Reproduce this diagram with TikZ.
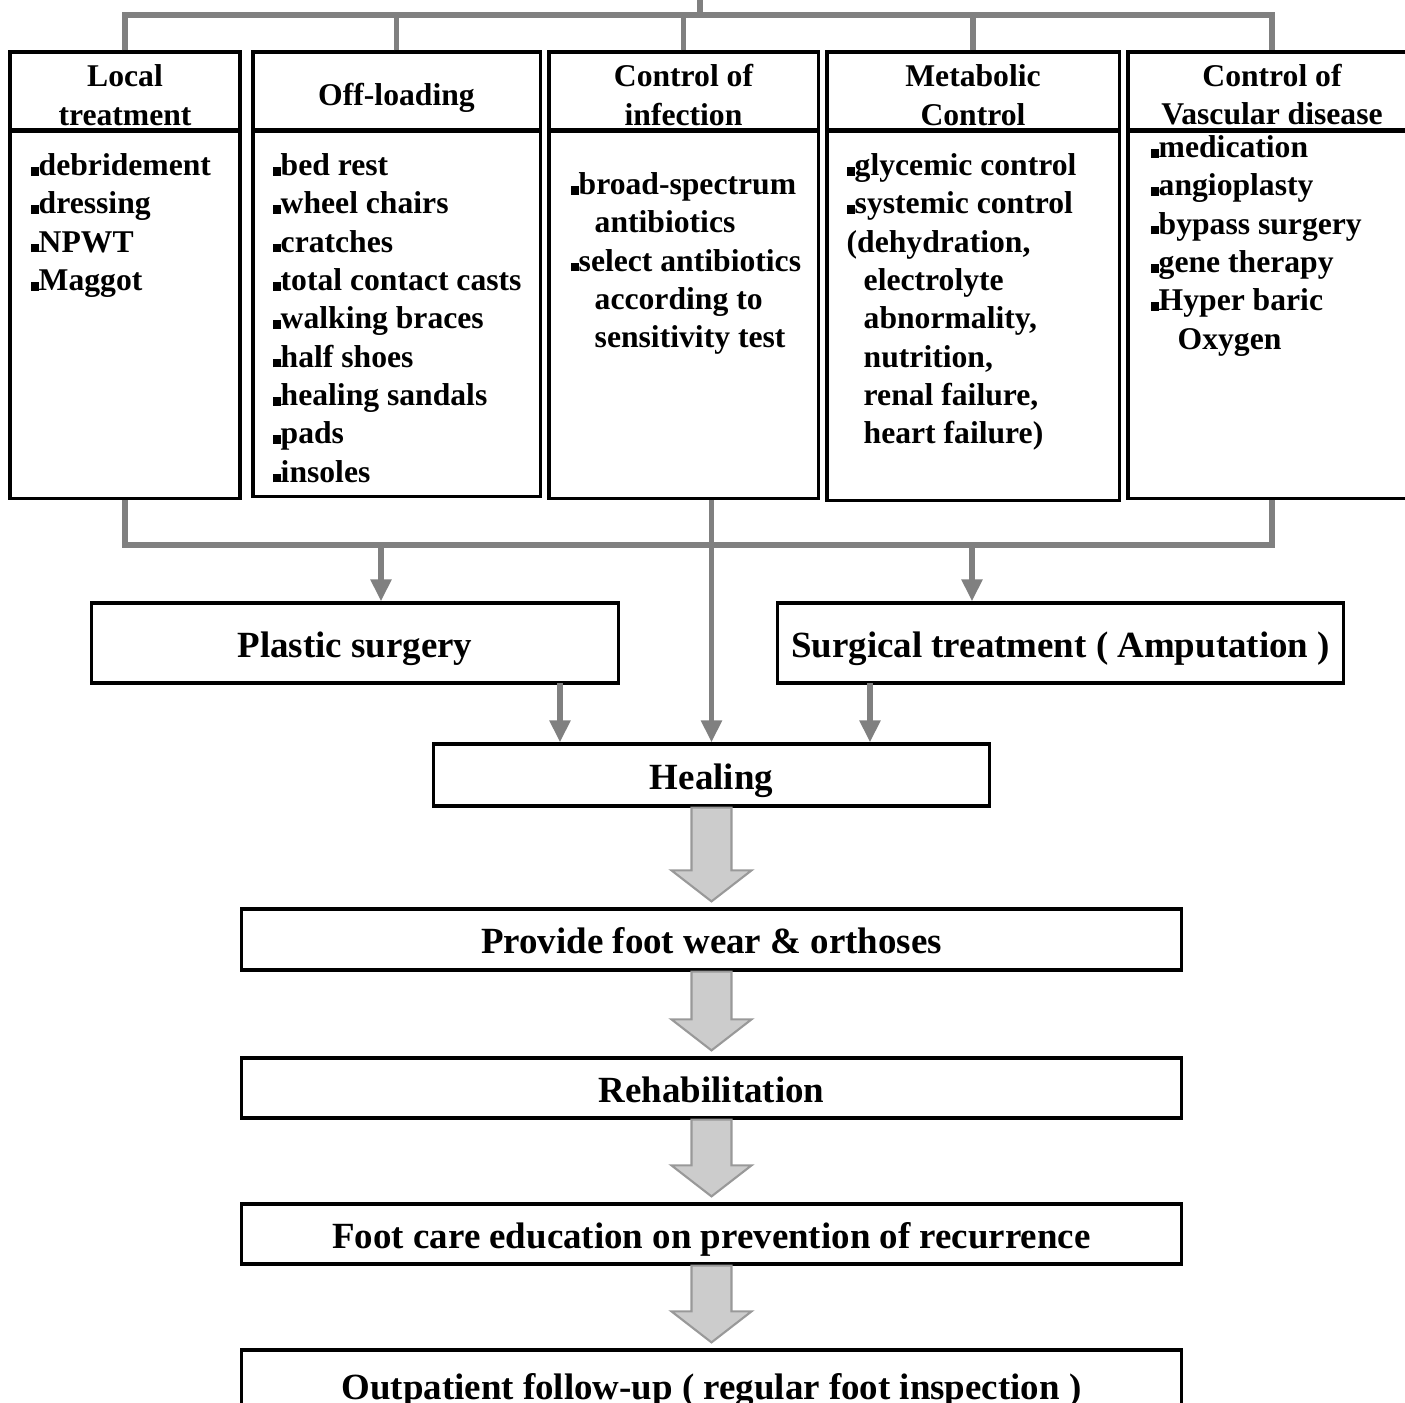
\documentclass[tikz,border=0pt]{standalone}
\usepackage{fontspec}
\setmainfont{Liberation Serif}
\usetikzlibrary{arrows.meta,calc}
\newcommand{\sqb}{\rule{0.8mm}{0.85mm}}
\newcommand{\hdstrut}{\rule{0pt}{0.30cm}}

\begin{document}
\begin{tikzpicture}[x=0.01cm, y=-0.01cm,
        hdbox/.style={rectangle, draw=black, line width=0.9pt, minimum height=0.78cm, inner sep=0pt, align=center, font=\fontsize{9}{10.9}\selectfont\bfseries},
        bdbox/.style={rectangle, draw=black, line width=0.9pt, anchor=north, inner sep=0pt},
        listtxt/.style={anchor=north west, inner sep=0pt, align=left, font=\fontsize{9}{10.9}\selectfont\bfseries},
        stepbox/.style={rectangle, draw=black, line width=0.9pt, inner sep=0pt, text height=0.28cm, text depth=0cm, font=\fontsize{10.5}{12}\selectfont\bfseries},
        bus/.style={line width=1.5pt, draw=black!50},
        arr/.style={bus, -{Triangle[length=0.22cm, width=0.2cm]}},
        fatarr/.style={fill=black!20, draw=black!40, line width=0.6pt},
    ]
        \useasboundingbox (0,0) rectangle (1405,1403);
        \clip (0,0) rectangle (1405,1403);

        % Five treatment columns
        \node[hdbox, minimum width=2.30cm] (lochd) at (125,91) {\hdstrut Local\\treatment};
        \node[hdbox, minimum width=2.87cm] (offhd) at (396.5,91) {\rule{0pt}{0.36cm}Off-loading};
        \node[hdbox, minimum width=2.69cm] (infhd) at (683.5,91) {\hdstrut Control of\\infection};
        \node[hdbox, minimum width=2.92cm] (methd) at (973,91) {\hdstrut Metabolic\\Control};
        \node[hdbox, minimum width=2.88cm] (vashd) at (1272,91) {\hdstrut Control of\\Vascular disease};

        \node[bdbox, minimum width=2.30cm, minimum height=3.67cm] (locbd) at (125,130) {};
        \node[bdbox, minimum width=2.87cm, minimum height=3.65cm] (offbd) at (396.5,130) {};
        \node[bdbox, minimum width=2.69cm, minimum height=3.67cm] (infbd) at (683.5,130) {};
        \node[bdbox, minimum width=2.92cm, minimum height=3.69cm] (metbd) at (973,130) {};
        \node[bdbox, minimum width=2.88cm, minimum height=3.67cm] (vasbd) at (1272,130) {};

        % Column contents
        \node[listtxt] (loclist) at (30,153) {\sqb debridement\\\sqb dressing\\\sqb NPWT\\\sqb Maggot};
        \node[listtxt] (offlist) at (272,153) {\sqb bed rest\\\sqb wheel chairs\\\sqb cratches\\\sqb total contact casts\\\sqb walking braces\\\sqb half shoes\\\sqb healing sandals\\\sqb pads\\\sqb insoles};
        \node[listtxt] (inflist) at (570,172) {\sqb broad-spectrum\\\hspace*{0.24cm}antibiotics\\\sqb select antibiotics\\\hspace*{0.24cm}according to\\\hspace*{0.24cm}sensitivity test};
        \node[listtxt] (metlist) at (846,153) {\sqb glycemic control\\\sqb systemic control\\(dehydration,\\\hspace*{0.17cm}electrolyte\\\hspace*{0.17cm}abnormality,\\\hspace*{0.17cm}nutrition,\\\hspace*{0.17cm}renal failure,\\\hspace*{0.17cm}heart failure)};
        \node[listtxt] (vaslist) at (1150,135) {\sqb medication\\\sqb angioplasty\\\sqb bypass surgery\\\sqb gene therapy\\\sqb Hyper baric\\\hspace*{0.27cm}Oxygen};

        % Outcome boxes
        \node[stepbox, minimum width=5.26cm, minimum height=0.80cm] (plas) at (355,643) {Plastic surgery};
        \node[stepbox, minimum width=5.65cm, minimum height=0.80cm] (surg) at (1060.5,643) {Surgical treatment ( Amputation )};
        \node[stepbox, minimum width=5.55cm, minimum height=0.62cm] (heal) at (711.5,775) {Healing};
        \node[stepbox, minimum width=9.39cm, minimum height=0.61cm] (wear) at (711.5,939.5) {Provide foot wear \& orthoses};
        \node[stepbox, minimum width=9.39cm, minimum height=0.60cm] (rehab) at (711.5,1088) {Rehabilitation};
        \node[stepbox, minimum width=9.39cm, minimum height=0.60cm] (educ) at (711.5,1234) {Foot care education on prevention of recurrence};
        \node[stepbox, minimum width=9.39cm, minimum height=0.70cm] (follow) at (711.5,1385) {Outpatient follow-up ( regular foot inspection )};

        % Top bus
        \coordinate (root) at (700,0);
        \coordinate (topbus) at (700,15);
        \draw[bus] (root) -- (topbus);
        \draw[bus] (lochd.north) -- (lochd.north |- topbus) -- (vashd.north |- topbus) -- (vashd.north);
        \foreach \n in {offhd,infhd,methd}
            \draw[bus] (\n.north) -- (\n.north |- topbus);

        % Bottom bus
        \coordinate (lowbus) at (700,545);
        \draw[bus] (locbd.south) -- (locbd.south |- lowbus) -- (vasbd.south |- lowbus) -- (vasbd.south);
        \coordinate (plasin) at (381,545);
        \coordinate (surgin) at (972,545);
        \draw[arr] (plasin) -- (plasin |- plas.north);
        \draw[arr] (surgin) -- (surgin |- surg.north);
        \draw[arr] (heal.north |- infbd.south) -- (heal.north);

        % Into healing
        \coordinate (plasout) at (560,683);
        \coordinate (surgout) at (870,683);
        \draw[arr] (plasout) -- (plasout |- heal.north);
        \draw[arr] (surgout) -- (surgout |- heal.north);

        % Block arrows down the steps
        \foreach \a/\b in {heal/wear, wear/rehab, rehab/educ, educ/follow}
            \draw[fatarr] ($(\a.south)+(-20,0)$) -- ($(\b.north)+(-20,-37)$) -- ($(\b.north)+(-40,-37)$)
                -- ($(\b.north)+(0,-6)$) -- ($(\b.north)+(40,-37)$) -- ($(\b.north)+(20,-37)$) -- ($(\a.south)+(20,0)$) -- cycle;
    \end{tikzpicture}
\end{document}
